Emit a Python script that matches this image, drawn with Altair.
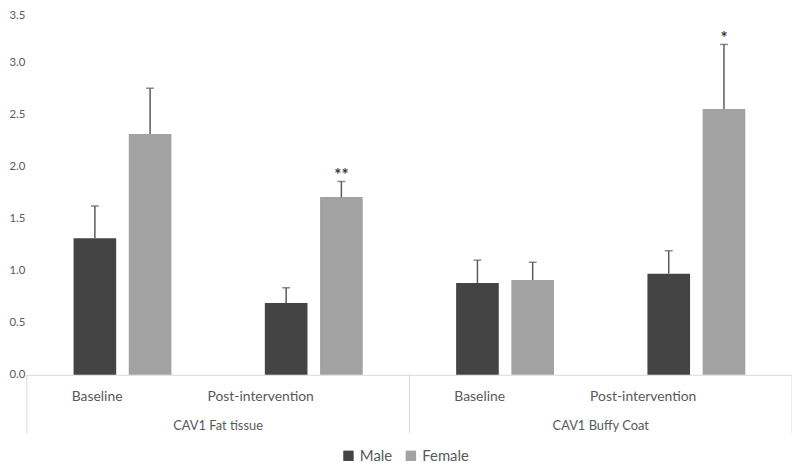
import altair as alt
import pandas as pd

tissues = ["CAV1 Fat tissue", "CAV1 Fat tissue", "CAV1 Buffy Coat", "CAV1 Buffy Coat"]
conditions = ["Baseline", "Post-intervention", "Baseline", "Post-intervention"]
keys = ["Fat|Baseline", "Fat|Post-intervention", "Buffy|Baseline", "Buffy|Post-intervention"]
sexes = ["Male", "Female"]
male_mean = [1.31, 0.69, 0.88, 0.97]
male_err = [0.31, 0.145, 0.22, 0.22]
female_mean = [2.31, 1.705, 0.91, 2.55]
female_err = [0.44, 0.15, 0.17, 0.62]
female_stars = ["", "**", "", "*"]
group_labels = ["CAV1 Fat tissue", "CAV1 Buffy Coat"]
group_anchor = ["Fat|Baseline", "Buffy|Baseline"]
y_ticks = [0.0, 0.5, 1.0, 1.5, 2.0, 2.5, 3.0, 3.5]

rows = []
for i, k in enumerate(keys):
    rows.append({"key": k, "sex": "Male", "mean": male_mean[i], "top": male_mean[i] + male_err[i], "star": ""})
    rows.append({"key": k, "sex": "Female", "mean": female_mean[i], "top": female_mean[i] + female_err[i], "star": female_stars[i]})
df = pd.DataFrame(rows)

FONT = "Lato"
TXT = "#595959"
H = 368
W = 772

xscale = alt.Scale(domain=keys, paddingInner=0, paddingOuter=0)
xoff = alt.XOffset("sex:N", scale=alt.Scale(domain=sexes, paddingInner=0.228, paddingOuter=0.846))
yscale = alt.Scale(domain=[0, 3.5], nice=False)


def xenc(band=0.5):
    return alt.X("key:N", scale=xscale, sort=keys, bandPosition=band)


base = alt.Chart(df)

bars = base.mark_bar().encode(
    x=alt.X("key:N", scale=xscale, sort=keys,
            axis=alt.Axis(title=None, labelExpr="split(datum.value, '|')[1]", labelAngle=0,
                          ticks=False, domainColor="#d9d9d9", labelFont=FONT, labelFontSize=14,
                          labelColor=TXT, labelPadding=22)),
    xOffset=xoff,
    y=alt.Y("mean:Q", scale=yscale,
            axis=alt.Axis(title=None, values=y_ticks, format=".1f", grid=False, domain=False,
                          ticks=False, labelFont=FONT, labelFontSize=11.5, labelColor=TXT,
                          labelPadding=2,
                          labelBaseline={"condition": {"test": "datum.value >= 3.5", "value": "top"},
                                         "value": "middle"})),
    color=alt.Color("sex:N", scale=alt.Scale(domain=sexes, range=["#444444", "#a2a2a2"]),
                    legend=alt.Legend(title=None, orient="none", direction="horizontal",
                                      legendX=317, legendY=442, symbolType="square",
                                      symbolSize=110, symbolStrokeWidth=0, labelFont=FONT,
                                      labelFontSize=15, labelColor=TXT, columnPadding=11,
                                      labelOffset=4)),
)

err = base.mark_rule(color="#5a5a5a", strokeWidth=1.5).encode(
    x=xenc(),
    xOffset=xoff,
    y=alt.Y("mean:Q", scale=yscale),
    y2="top:Q",
)

caps = base.mark_tick(color="#5a5a5a", thickness=1.5, size=8, orient="horizontal").encode(
    x=xenc(),
    xOffset=xoff,
    y=alt.Y("top:Q", scale=yscale),
)

stars = base.mark_text(color="#3a3a3a", font=FONT, fontSize=17, fontWeight="bold",
                       baseline="bottom", dy=4).encode(
    x=xenc(),
    xOffset=xoff,
    y=alt.Y("top:Q", scale=yscale),
    text="star:N",
)

gdf = pd.DataFrame({"key": group_anchor, "label": group_labels})
glabels = alt.Chart(gdf).mark_text(font=FONT, fontSize=13, color=TXT).encode(
    x=xenc(1),
    y=alt.value(H + 52),
    text="label:N",
)

sdf = pd.DataFrame({"key": ["Fat|Baseline", "Buffy|Baseline", "Buffy|Post-intervention"],
                    "pos": [0, 0, 1]})
sep_left = alt.Chart(sdf[sdf.pos == 0]).mark_rule(color="#d9d9d9", strokeWidth=1).encode(
    x=xenc(0),
    y=alt.value(H), y2=alt.value(H + 59),
)
sep_right = alt.Chart(sdf[sdf.pos == 1]).mark_rule(color="#d9d9d9", strokeWidth=1).encode(
    x=xenc(1),
    y=alt.value(H), y2=alt.value(H + 59),
)

chart = alt.layer(sep_left, sep_right, bars, err, caps, stars, glabels).properties(
    width=W, height=H,
    autosize=alt.AutoSizeParams(type="none"),
    padding={"left": 19, "top": 0, "right": 0, "bottom": 95},
    background="white",
).configure_view(stroke=None)

chart.save("out.html", embed_options={"renderer": "svg", "actions": False})
